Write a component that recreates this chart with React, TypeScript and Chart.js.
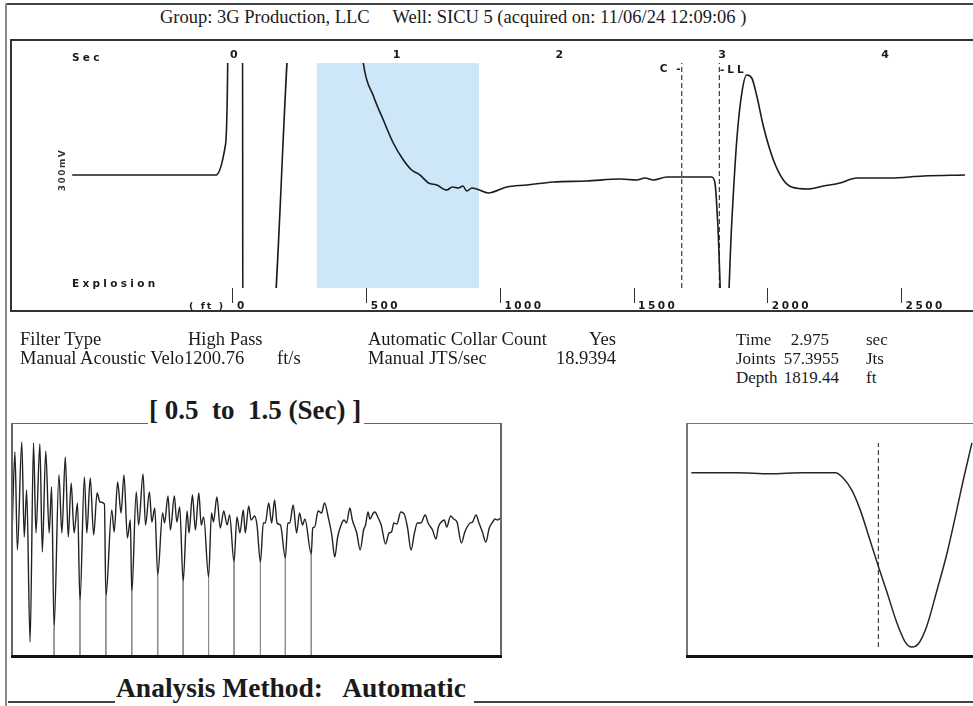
import React, { useEffect, useRef } from "react";
import { Chart, registerables } from "chart.js";

Chart.register(...registerables);

// ===================== DATA =====================
// Top panel: full acoustic trace (time in seconds, relative amplitude; off-scale parts clip)
const traceSec = [
  -1.0, -0.6, -0.117, -0.061, -0.045, -0.043, 0.046, 0.048, 0.204, 0.368,
  0.74, 0.788, 0.85, 0.911, 0.972, 1.034, 1.085, 1.136, 1.188, 1.239,
  1.3, 1.335, 1.372, 1.4, 1.423, 1.455, 1.485, 1.556, 1.669, 1.792,
  1.955, 2.16, 2.365, 2.467, 2.518, 2.57, 2.652, 2.744, 2.85, 2.928,
  2.948, 2.965, 3.006, 3.051, 3.082, 3.113, 3.143, 3.174, 3.205, 3.245,
  3.307, 3.368, 3.419, 3.521, 3.614, 3.716, 3.819, 4.023, 4.228, 4.484,
];
const traceAmp = [
  0, 0, 0, 28, 112, 200, 200, -200, -200, 200,
  200, 112, 79, 55, 32, 15, 5, 0, -8, -10,
  -15, -12, -13, -11, -16, -13, -14, -18, -12, -10,
  -7, -6, -4, -5, -3, -5, -2, -2, -2, -2,
  -8, -48, -200, -48, 35, 82, 100, 97, 79, 49,
  15, -5, -12, -14, -11, -8, -3, -3, -1, 0,
];
const secTicks = [0, 1, 2, 3, 4];
const depthTicks = [0, 500, 1000, 1500, 2000, 2500];
const windowSec = [0.5, 1.5];
const collarSec = 2.744; // "C" marker
const liquidSec = 2.975; // "LL" marker

// Bottom-left panel: collar window 0.5 – 1.5 s (time in ms)
const collarMs = [
  500, 506, 511, 520, 525, 530, 537, 544, 549, 557,
  562, 569, 576, 581, 586, 596, 602, 609, 615, 621,
  627, 634, 639, 648, 653, 660, 667, 674, 680, 689,
  692, 704, 709, 716, 723, 729, 736, 742, 745, 754,
  759, 768, 773, 781, 786, 792, 798, 808, 812, 819,
  824, 832, 837, 843, 850, 858, 862, 869, 875, 882,
  887, 892, 902, 908, 912, 919, 926, 933, 940, 945,
  954, 960, 966, 973, 977, 984, 989, 996, 1001, 1008,
  1014, 1018, 1025, 1031, 1037, 1042, 1049, 1059, 1064, 1068,
  1075, 1082, 1088, 1094, 1099, 1112, 1115, 1119, 1126, 1133,
  1139, 1147, 1154, 1160, 1166, 1173, 1179, 1184, 1191, 1196,
  1205, 1212, 1219, 1223, 1228, 1232, 1239, 1242, 1249, 1255,
  1264, 1271, 1276, 1281, 1287, 1295, 1302, 1309, 1316, 1323,
  1329, 1336, 1345, 1351, 1360, 1367, 1372, 1378, 1384, 1389,
  1397, 1403, 1410, 1419, 1426, 1432, 1437, 1442, 1449, 1455,
  1462, 1469, 1476, 1483, 1488, 1493, 1499,
];
const collarAmp = [
  5, 88, -10, 98, 3, 50, -102, 97, 7, 96,
  -12, 89, 7, 53, -88, 65, 7, 83, 3, 57,
  7, 37, -62, 63, 7, 62, 5, 47, 38, 36,
  -57, 30, 8, 58, 27, 65, 2, 20, -53, 48,
  15, 66, 15, 48, 18, 32, -35, 27, 17, 44,
  10, 44, 18, 33, -42, 29, 7, 45, 10, 47,
  15, 23, -37, 27, 18, 43, 12, 29, 15, 25,
  -22, 23, 7, 30, 7, 34, 20, 24, 15, -22,
  17, 17, 37, 17, 40, 17, 15, -18, 17, 17,
  35, 7, 27, 15, 21, -14, 12, 13, 29, 27,
  37, 22, 5, -17, 3, 15, 20, 17, 32, 20,
  7, -10, 10, 15, 28, 21, 27, 28, 22, 15,
  -4, 7, 8, 17, 16, 28, 26, 12, -10, 7,
  17, 17, 25, 17, 10, 1, 13, 18, 20, 13,
  24, 21, 18, -3, 8, 14, 17, 18, 25, 17,
  8, -2, 12, 18, 21, 20, 22,
];
const collarPickMs = [586, 639, 692, 745, 798, 850, 902, 954, 1008, 1059, 1112];
const collarPickAmp = [-88, -62, -57, -53, -35, -42, -37, -22, -22, -18, -14];

// Bottom-right panel: liquid level kick (time in ms)
const llMs = [2801, 2843, 2874, 2905, 2935, 2942, 2950, 2958, 2967, 2975, 2983, 2992, 3000, 3006, 3012, 3020, 3029, 3039, 3048, 3054, 3062];
const llAmp = [67, 67, 66, 67, 67, 62, 50, 30, 0, -27, -53, -83, -103, -108, -105, -87, -53, -13, 30, 60, 97];
const llPickMs = 2975;

// ===================== STYLE CONSTANTS =====================
const SERIF = '"Liberation Serif", "Times New Roman", serif';
const SANS = '"DejaVu Sans", sans-serif';
const INK = "#1b1b1b";

const TOP_Y = [-113, 112];
const TOP_X = [-1.37, 4.533];
const TOP_DEPTH = [-826, 2767];
const LOW_Y = [-116, 116];

const spacingPlugin = {
  id: "letterSpacing",
  beforeDraw(chart: any) {
    chart.ctx.letterSpacing = "2.5px";
  },
  afterDraw(chart: any) {
    chart.ctx.letterSpacing = "0px";
  },
};

function makeTop(canvas: HTMLCanvasElement) {
  const pts = traceSec.map((x, i) => ({ x, y: traceAmp[i] }));
  const vline = (x: number) => ({
    data: [
      { x, y: TOP_Y[0] },
      { x, y: TOP_Y[1] },
    ],
    borderColor: "#3a3a3a",
    borderWidth: 1.2,
    borderDash: [5, 3],
    pointRadius: 0,
    tension: 0,
    order: 1,
  });
  return new Chart(canvas, {
    type: "line",
    data: {
      datasets: [
        {
          data: pts,
          borderColor: INK,
          borderWidth: 1.6,
          pointRadius: 0,
          cubicInterpolationMode: "monotone",
          order: 0,
        } as any,
        {
          data: [
            { x: windowSec[0], y: TOP_Y[1] },
            { x: windowSec[1], y: TOP_Y[1] },
          ],
          fill: "start",
          backgroundColor: "rgb(205,230,248)",
          borderWidth: 0,
          pointRadius: 0,
          order: 5,
        },
        vline(collarSec),
        vline(liquidSec),
      ],
    },
    options: {
      animation: false,
      responsive: false,
      maintainAspectRatio: false,
      events: [],
      layout: { padding: { left: 1, right: 0, top: 0, bottom: 0 } },
      plugins: { legend: { display: false }, tooltip: { enabled: false } },
      scales: {
        x: {
          type: "linear",
          position: "top",
          min: TOP_X[0],
          max: TOP_X[1],
          afterFit: (s: any) => {
            s.height = 23;
          },
          afterBuildTicks: (s: any) => {
            s.ticks = secTicks.map((v) => ({ value: v }));
          },
          grid: { display: false, drawTicks: false },
          border: { display: false },
          ticks: {
            autoSkip: false,
            maxRotation: 0,
            padding: 1,
            color: INK,
            font: { family: "DejaVu Sans", size: 11, weight: "bold" },
            callback: (v: any) => String(v),
          },
        },
        depth: {
          type: "linear",
          axis: "x",
          position: "bottom",
          min: TOP_DEPTH[0],
          max: TOP_DEPTH[1],
          afterFit: (s: any) => {
            s.height = 23;
          },
          afterBuildTicks: (s: any) => {
            s.ticks = depthTicks.map((v) => ({ value: v }));
          },
          grid: { drawOnChartArea: false, drawTicks: true, tickLength: 15, color: "#333", lineWidth: 1 },
          border: { display: false },
          ticks: {
            autoSkip: false,
            maxRotation: 0,
            align: "start",
            labelOffset: 4,
            padding: -3,
            color: INK,
            font: { family: "DejaVu Sans", size: 10.5, weight: "bold" },
            callback: (v: any) => String(v),
          },
        } as any,
        y: { display: false, min: TOP_Y[0], max: TOP_Y[1] },
      },
    },
    plugins: [spacingPlugin],
  });
}

function makeCollar(canvas: HTMLCanvasElement) {
  const pts = collarMs.map((x, i) => ({ x, y: collarAmp[i] }));
  const picks = collarPickMs.map((x, i) => ({
    data: [
      { x, y: collarPickAmp[i] },
      { x, y: LOW_Y[0] },
    ],
    borderColor: "#8c8c8c",
    borderWidth: 1,
    pointRadius: 0,
    tension: 0,
    order: 2,
  }));
  return new Chart(canvas, {
    type: "line",
    data: {
      datasets: [
        {
          data: pts,
          borderColor: "#222",
          borderWidth: 1.4,
          pointRadius: 0,
          cubicInterpolationMode: "monotone",
          order: 0,
        } as any,
        ...picks,
      ],
    },
    options: {
      animation: false,
      responsive: false,
      maintainAspectRatio: false,
      events: [],
      layout: { padding: 0 },
      plugins: { legend: { display: false }, tooltip: { enabled: false } },
      scales: {
        x: { type: "linear", display: false, min: 500, max: 1500 },
        y: { display: false, min: LOW_Y[0], max: LOW_Y[1] },
      },
    },
  });
}

function makeLL(canvas: HTMLCanvasElement) {
  const pts = llMs.map((x, i) => ({ x, y: llAmp[i] }));
  return new Chart(canvas, {
    type: "line",
    data: {
      datasets: [
        {
          data: pts,
          borderColor: "#262626",
          borderWidth: 1.5,
          pointRadius: 0,
          cubicInterpolationMode: "monotone",
        } as any,
        {
          data: [
            { x: llPickMs, y: Math.min(...llAmp) },
            { x: llPickMs, y: Math.max(...llAmp) },
          ],
          borderColor: "#444",
          borderWidth: 1.2,
          borderDash: [5, 3],
          pointRadius: 0,
          tension: 0,
        },
      ],
    },
    options: {
      animation: false,
      responsive: false,
      maintainAspectRatio: false,
      events: [],
      layout: { padding: 0 },
      plugins: { legend: { display: false }, tooltip: { enabled: false } },
      scales: {
        x: { type: "linear", display: false, min: 2797, max: 3063 },
        y: { display: false, min: -117, max: 116 },
      },
    },
  });
}

function ChartCanvas(props: { left: number; top: number; width: number; height: number; make: (c: HTMLCanvasElement) => Chart }) {
  const ref = useRef<HTMLCanvasElement>(null);
  useEffect(() => {
    const chart = props.make(ref.current as HTMLCanvasElement);
    return () => chart.destroy();
  }, []);
  return (
    <canvas
      ref={ref}
      width={props.width}
      height={props.height}
      style={{ position: "absolute", left: props.left, top: props.top, width: props.width, height: props.height }}
    />
  );
}

function Line(p: { x: number; y: number; w?: number; h?: number; t?: number; c?: string }) {
  const t = p.t ?? 1;
  return (
    <div
      style={{
        position: "absolute",
        left: p.x,
        top: p.y,
        width: p.w ?? t,
        height: p.h ?? t,
        background: p.c ?? "#555",
      }}
    />
  );
}

function Txt(p: { x: number; y: number; size: number; bold?: boolean; font?: string; ls?: number; right?: boolean; children: any }) {
  const style: any = {
    position: "absolute",
    top: p.y,
    fontFamily: p.font ?? SERIF,
    fontSize: p.size,
    fontWeight: p.bold ? "bold" : "normal",
    lineHeight: 1,
    whiteSpace: "pre",
    letterSpacing: p.ls ? p.ls : undefined,
    color: INK,
  };
  if (p.right) style.right = 973 - p.x;
  else style.left = p.x;
  return <div style={style}>{p.children}</div>;
}

const R1 = 330;
const R2 = 349;
const R3 = 368;
const FS = 18.5;
const FR = 17;

export default function App() {
  return (
    <div
      style={{
        position: "fixed",
        left: 0,
        top: 0,
        width: 973,
        height: 706,
        overflow: "hidden",
        background: "#fff",
      }}
    >
      {/* outer frame */}
      <Line x={6} y={3} w={967} t={2} c="#444" />
      <Line x={5} y={3} h={703} t={2} c="#888" />

      {/* title */}
      <Txt x={160} y={8} size={18.5}>
        {"Group: 3G Production, LLC     Well: SICU 5 (acquired on: 11/06/24 12:09:06 )"}
      </Txt>

      {/* top panel */}
      <ChartCanvas left={11} top={40} width={962} height={271} make={makeTop} />
      <Line x={10} y={39} w={963} t={2} c="#333" />
      <Line x={10} y={39} h={273} t={2} c="#333" />
      <Line x={10} y={310} w={963} t={2} c="#333" />
      <Txt x={72} y={52} size={10.5} bold font={SANS} ls={3.3}>Sec</Txt>
      <Txt x={72} y={278} size={10.5} bold font={SANS} ls={3.3}>Explosion</Txt>
      <Txt x={189} y={301} size={9.5} bold font={SANS} ls={2}>( ft )</Txt>
      <Txt x={683} y={63} size={10.5} bold font={SANS} ls={2.5} right>C -</Txt>
      <Txt x={720} y={64} size={10.5} bold font={SANS} ls={3}>-LL</Txt>
      <div
        style={{
          position: "absolute",
          left: 62,
          top: 170,
          transform: "translate(-50%, -50%) rotate(-90deg)",
          fontFamily: SANS,
          fontSize: 9,
          fontWeight: "bold",
          letterSpacing: 1.5,
          lineHeight: 1,
          whiteSpace: "pre",
          color: "#333",
        }}
      >
        300mV
      </div>

      {/* info block */}
      <Txt x={20} y={R1} size={FS}>Filter Type</Txt>
      <Txt x={188} y={R1} size={FS}>High Pass</Txt>
      <Txt x={368} y={R1} size={FS}>Automatic Collar Count</Txt>
      <Txt x={616} y={R1} size={FS} right>Yes</Txt>
      <Txt x={736} y={R1 + 1} size={FR}>Time</Txt>
      <Txt x={829} y={R1 + 1} size={FR} right>2.975</Txt>
      <Txt x={866} y={R1 + 1} size={FR}>sec</Txt>

      <Txt x={20} y={R2} size={FS}>Manual Acoustic Velo1200.76</Txt>
      <Txt x={277} y={R2} size={FS}>ft/s</Txt>
      <Txt x={368} y={R2} size={FS}>Manual JTS/sec</Txt>
      <Txt x={616} y={R2} size={FS} right>18.9394</Txt>
      <Txt x={736} y={R2 + 1} size={FR}>Joints</Txt>
      <Txt x={839} y={R2 + 1} size={FR} right>57.3955</Txt>
      <Txt x={866} y={R2 + 1} size={FR}>Jts</Txt>

      <Txt x={736} y={R3 + 1} size={FR}>Depth</Txt>
      <Txt x={839} y={R3 + 1} size={FR} right>1819.44</Txt>
      <Txt x={866} y={R3 + 1} size={FR}>ft</Txt>

      {/* collar window panel */}
      <Txt x={149} y={397} size={27} bold>{"[ 0.5  to  1.5 (Sec) ]"}</Txt>
      <Line x={11} y={423} w={137} t={1} c="#666" />
      <Line x={364} y={423} w={138} t={1} c="#666" />
      <ChartCanvas left={12} top={424} width={489} height={232} make={makeCollar} />
      <Line x={11} y={423} h={234} t={1.5} c="#666" />
      <Line x={500} y={423} h={234} t={1.5} c="#666" />
      <Line x={11} y={655} w={491} t={3} c="#111" />

      {/* liquid level zoom panel */}
      <ChartCanvas left={687} top={424} width={286} height={232} make={makeLL} />
      <Line x={686} y={423} w={287} t={1} c="#777" />
      <Line x={686} y={423} h={235} t={1.5} c="#777" />
      <Line x={686} y={655} w={287} t={3} c="#111" />

      {/* footer */}
      <Line x={8} y={701} w={107} t={1.5} c="#444" />
      <Txt x={116} y={674} size={27.5} bold>{"Analysis Method:   Automatic"}</Txt>
      <Line x={474} y={701} w={499} t={1.5} c="#444" />
    </div>
  );
}
